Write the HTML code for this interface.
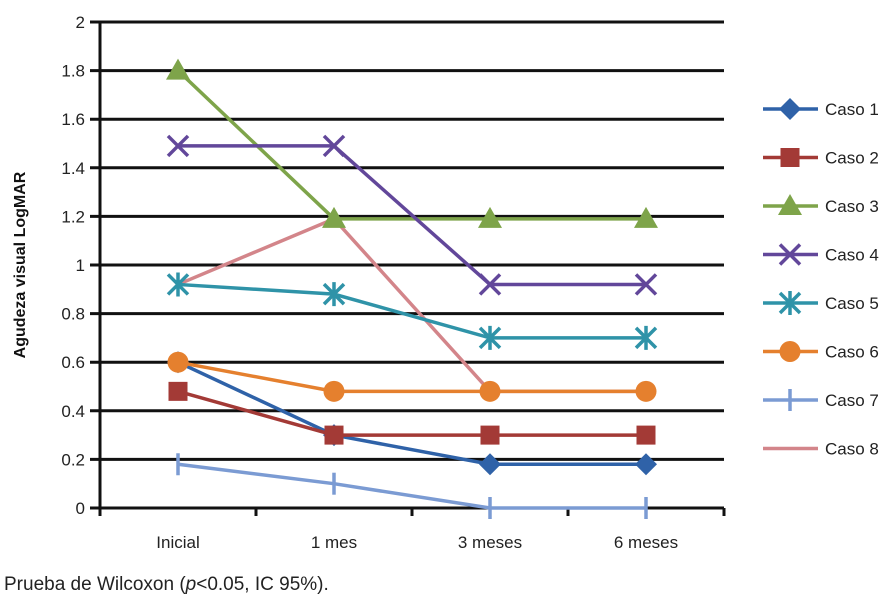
<!DOCTYPE html>
<html><head><meta charset="utf-8"><style>
body{margin:0;background:#fff;width:891px;height:601px;overflow:hidden;font-family:"Liberation Sans",sans-serif}
text{font-family:"Liberation Sans",sans-serif}
</style></head><body>
<svg id="c" width="891" height="601"></svg>
<script>
const categories=["Inicial","1 mes","3 meses","6 meses"];
const yTicks=[0,0.2,0.4,0.6,0.8,1,1.2,1.4,1.6,1.8,2];
const yTickLabels=["0","0.2","0.4","0.6","0.8","1","1.2","1.4","1.6","1.8","2"];
const seriesNames=["Caso 1","Caso 2","Caso 3","Caso 4","Caso 5","Caso 6","Caso 7","Caso 8"];
const caso1=[0.6,0.3,0.18,0.18];
const caso2=[0.48,0.3,0.3,0.3];
const caso3=[1.8,1.19,1.19,1.19];
const caso4=[1.49,1.49,0.92,0.92];
const caso5=[0.92,0.88,0.7,0.7];
const caso6=[0.6,0.48,0.48,0.48];
const caso7=[0.18,0.1,0,0];
const caso8=[0.92,1.19,0.48,0.48];
const series=[caso1,caso2,caso3,caso4,caso5,caso6,caso7,caso8];
const colors=["#2f62a8","#a33a36","#7ea44a","#62479a","#2f93a8","#e5802e","#7b9bd3","#d3858a"];
const markers=["diamond","square","triangle","x","star","circle","plus","none"];
const drawOrder=[7,0,1,2,3,4,5,6];
const NS="http://www.w3.org/2000/svg";
const svg=document.getElementById('c');
const x0=100,x1=724,yb=508,yt=22;
const band=(x1-x0)/categories.length;
const X=i=>x0+band*(i+0.5);
const Y=v=>yb-(v/2)*(yb-yt);
function mk(t,a,p){const e=document.createElementNS(NS,t);for(const k in a)e.setAttribute(k,a[k]);(p||svg).appendChild(e);return e;}
yTicks.forEach((v,i)=>{
  const l=mk('line',{x1:90,x2:x1,y1:Y(v),y2:Y(v),stroke:'#111','stroke-width':3});
  
  
  const t=mk('text',{x:85,y:Y(v)+6,'text-anchor':'end','font-size':17,fill:'#222'});
  t.textContent=yTickLabels[i];
  
  
});
const ax=mk('line',{x1:x0,x2:x0,y1:yt,y2:yb+8,stroke:'#111','stroke-width':3});


for(let i=0;i<=categories.length;i++){
  const t=mk('line',{x1:x0+band*i,x2:x0+band*i,y1:yb,y2:yb+8,stroke:'#111','stroke-width':3});
  
  
}
categories.forEach((c,i)=>{
  const t=mk('text',{x:X(i),y:548,'text-anchor':'middle','font-size':17,fill:'#222'});
  t.textContent=c;
  
  
});
const yt2=mk('text',{transform:'translate(25,265) rotate(-90)','text-anchor':'middle','font-size':16,'font-weight':'bold',fill:'#111'});
yt2.textContent='Agudeza visual LogMAR';


function marker(type,cx,cy,col,g){
  const s=11;
  if(type==='diamond')mk('polygon',{points:`${cx},${cy-s} ${cx+s},${cy} ${cx},${cy+s} ${cx-s},${cy}`,fill:col},g);
  else if(type==='square')mk('rect',{x:cx-9.5,y:cy-9.5,width:19,height:19,fill:col},g);
  else if(type==='triangle')mk('polygon',{points:`${cx},${cy-12} ${cx+12},${cy+9} ${cx-12},${cy+9}`,fill:col},g);
  else if(type==='circle')mk('circle',{cx:cx,cy:cy,r:10.5,fill:col},g);
  else if(type==='x'){mk('path',{d:`M${cx-10},${cy-10}L${cx+10},${cy+10}M${cx+10},${cy-10}L${cx-10},${cy+10}`,stroke:col,'stroke-width':3.5},g);}
  else if(type==='star'){mk('path',{d:`M${cx-10},${cy-10}L${cx+10},${cy+10}M${cx+10},${cy-10}L${cx-10},${cy+10}M${cx},${cy-12}L${cx},${cy+12}`,stroke:col,'stroke-width':3.5},g);}
  else if(type==='plus'){mk('path',{d:`M${cx},${cy-11}L${cx},${cy+11}`,stroke:col,'stroke-width':3.5},g);}
}
drawOrder.forEach(si=>{
  const d=series[si];
  const g=mk('g',{});
  
  
  mk('polyline',{points:d.map((v,i)=>X(i)+','+Y(v)).join(' '),fill:'none',stroke:colors[si],'stroke-width':3.5},g);
  d.forEach((v,i)=>marker(markers[si],X(i),Y(v),colors[si],g));
});
seriesNames.forEach((n,si)=>{
  const ly=109+si*48.5;
  const lg=mk('g',{});
  
  
  mk('line',{x1:763,x2:818,y1:ly,y2:ly,stroke:colors[si],'stroke-width':3.5},lg);
  marker(markers[si],790,ly,colors[si],lg);
  const t=mk('text',{x:825,y:ly+6,'font-size':17,fill:'#222'},lg);
  t.textContent=n;
});
const f=mk('text',{x:4,y:590,'font-size':19,fill:'#222'});
f.innerHTML='Prueba de Wilcoxon (<tspan font-style="italic">p</tspan>&lt;0.05, IC 95%).';


</script>
</body></html>
